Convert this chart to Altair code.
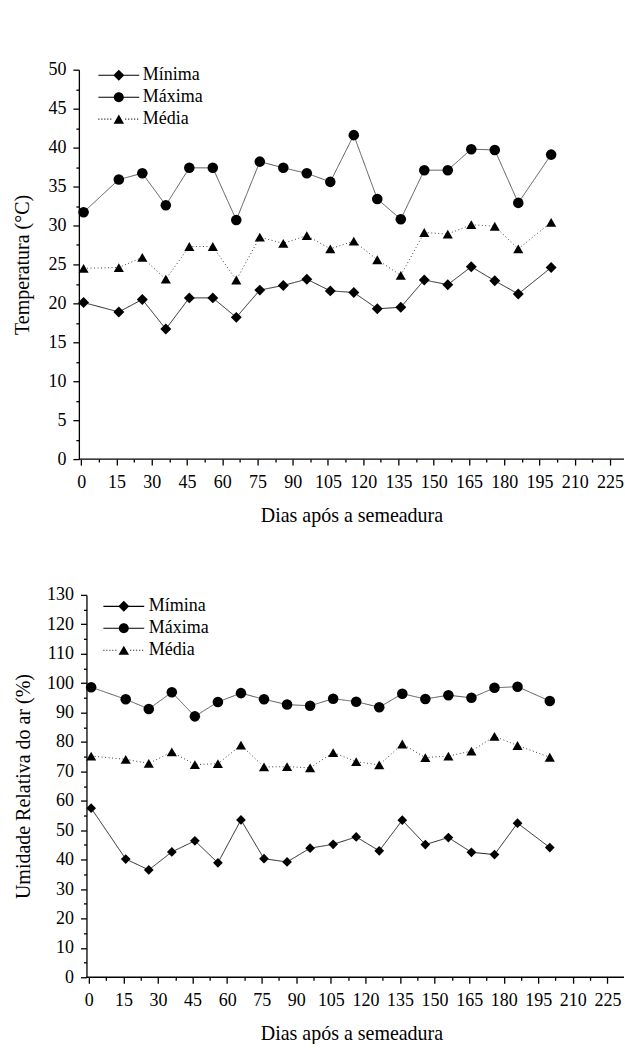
import altair as alt
import numpy as np
import pandas as pd

FONT = "Liberation Serif"

# Days after sowing at which readings were taken
days = [1, 16, 26, 36, 46, 56, 66, 76, 86, 96, 106, 116, 126, 136, 146, 156, 166, 176, 186, 200]

# Air temperature (°C)
temp_names = ["Mínima", "Máxima", "Média"]
temp_min = [20.1, 18.9, 20.5, 16.7, 20.7, 20.7, 18.2, 21.7, 22.3, 23.1,
            21.6, 21.4, 19.3, 19.5, 23.0, 22.4, 24.7, 22.9, 21.2, 24.6]
temp_max = [31.7, 35.9, 36.7, 32.6, 37.4, 37.4, 30.7, 38.2, 37.4, 36.7,
            35.6, 41.6, 33.4, 30.8, 37.1, 37.1, 39.8, 39.7, 32.9, 39.1]
temp_med = [24.5, 24.6, 25.9, 23.1, 27.3, 27.3, 23.0, 28.5, 27.7, 28.7,
            27.0, 28.0, 25.6, 23.6, 29.1, 28.9, 30.1, 29.9, 27.0, 30.4]

# Relative air humidity (%)
rh_names = ["Mímina", "Máxima", "Média"]
rh_min = [57.5, 40.2, 36.5, 42.6, 46.4, 38.9, 53.5, 40.3, 39.2, 43.9,
          45.2, 47.7, 43.0, 53.4, 45.1, 47.5, 42.5, 41.7, 52.4, 44.1]
rh_max = [98.6, 94.5, 91.2, 96.9, 88.7, 93.6, 96.6, 94.5, 92.7, 92.3,
          94.7, 93.7, 91.8, 96.4, 94.6, 95.9, 95.0, 98.4, 98.8, 93.9]
rh_med = [75.2, 74.1, 72.7, 76.6, 72.3, 72.6, 78.9, 71.5, 71.6, 71.2,
          76.4, 73.3, 72.2, 79.3, 74.7, 75.2, 76.9, 81.9, 78.8, 74.8]


def long_table(names, columns):
    rows = []
    for name, vals in zip(names, columns):
        for d, v in zip(days, vals):
            rows.append({"dia": d, "valor": v, "serie": name})
    return pd.DataFrame(rows)


def rect(x0, x1, h):
    # clockwise thin bar from x0 to x1, half-thickness h
    return f"M{x0:.3f},{-h}L{x1:.3f},{-h}L{x1:.3f},{h}L{x0:.3f},{h}Z"


def legend_shapes(half, thick=0.1):
    """Legend glyphs: a line stub (solid or dotted) with the series marker in the middle."""
    solid = rect(-half, -0.9, thick) + rect(0.9, half, thick)
    dots = "".join(rect(x, x + 0.19, thick)
                   for x in np.arange(-half, half, 0.57) if abs(x + 0.1) > 1.0)
    diamond = "M-1.05,0L0,-1.05L1.05,0L0,1.05Z"
    circle = "M-0.95,0A0.95,0.95 0 1,1 0.95,0A0.95,0.95 0 1,1 -0.95,0Z"
    triangle = "M0,-0.866L1,0.866L-1,0.866Z"
    return [solid + diamond, solid + circle, dots + triangle]


def panel(df, names, y_title, y_max, y_major, y_minor, x_min, x_start, x_max,
          width, height, y_extent, y_offset, legend_x, legend_y, label_offset):
    x_vals = [i * 7.5 for i in range(31)]
    y_vals = [float(v) for v in np.arange(0, y_max + 1e-9, y_minor)]

    x_scale = alt.Scale(domain=[x_min, x_max], nice=False, zero=False)
    y_scale = alt.Scale(domain=[0, y_max], nice=False)
    x_axis = alt.Axis(
        values=x_vals,
        labelExpr="datum.value % 15 === 0 ? datum.label : ''",
        tickSize={"condition": {"test": "datum.value % 15 === 0", "value": 6}, "value": 3},
        labelPadding=8,
        titlePadding=14,
        domain=False,
        title="Dias após a semeadura",
    )
    y_axis = alt.Axis(
        values=y_vals,
        labelExpr=f"datum.value % {y_major} === 0 ? datum.label : ''",
        tickSize={"condition": {"test": f"datum.value % {y_major} === 0", "value": 6}, "value": 3},
        labelPadding=7,
        minExtent=y_extent,
        maxExtent=y_extent,
        offset=y_offset,
        titlePadding=10,
        title=y_title,
    )
    x = alt.X("dia:Q", scale=x_scale, axis=x_axis)
    y = alt.Y("valor:Q", scale=y_scale, axis=y_axis)

    base = alt.Chart(df)
    # x axis baseline, running from the y axis to the right end of the scale
    baseline = base.transform_filter(
        "datum.serie == '%s' && datum.dia == %d" % (names[0], days[0])
    ).mark_rule(color="black", strokeWidth=1.3).encode(
        x=alt.X(datum=x_start, type="quantitative", scale=x_scale, axis=x_axis),
        x2=alt.X2(datum=x_max),
        y=alt.Y(datum=0, type="quantitative", scale=y_scale, axis=y_axis),
    )
    lines = base.mark_line(strokeWidth=1).encode(
        x=x,
        y=y,
        detail="serie:N",
        color=alt.Color("serie:N", scale=alt.Scale(domain=names, range=["#222222", "#555555", "#444444"]), legend=None),
        strokeDash=alt.StrokeDash("serie:N", scale=alt.Scale(domain=names, range=[[1, 0], [1, 0], [1, 2.5]]), legend=None),
    )
    points = base.mark_point(filled=True, opacity=1, color="black").encode(
        x=x,
        y=y,
        shape=alt.Shape("serie:N", scale=alt.Scale(domain=names, range=["diamond", "circle", "triangle-up"]), legend=None),
        size=alt.Size("serie:N", scale=alt.Scale(domain=names, range=[120, 95, 110]), legend=None),
    )
    key = base.transform_filter("false").mark_point(
        filled=True, color="black", size=110, opacity=1,
    ).encode(
        shape=alt.Shape(
            "serie:N",
            scale=alt.Scale(domain=names, range=legend_shapes(3.9)),
            legend=alt.Legend(
                title=None, orient="none", legendX=legend_x, legendY=legend_y,
                labelFont=FONT, labelFontSize=18, labelColor="black",
                labelOffset=label_offset, rowPadding=4, padding=0, symbolSize=110,
                symbolFillColor="black", symbolOpacity=1,
            ),
        ),
    )
    return (
        alt.layer(lines, points, baseline, key)
        .resolve_scale(shape="independent")
        .properties(width=width, height=height)
    )


top = panel(long_table(temp_names, [temp_min, temp_max, temp_med]), temp_names,
            "Temperatura (°C)", 50, 5, 2.5, -1, -1, 231,
            546, 390, 36, 0, 31, -3.5, 15)
bottom = panel(long_table(rh_names, [rh_min, rh_max, rh_med]), rh_names,
               "Umidade Relativa do ar (%)", 130, 10, 5, -4.33, -1.03, 232.2,
               546, 383, 43, -7.6, 36, 2.5, 16)

chart = (
    alt.vconcat(top, bottom, spacing=61)
    .properties(padding={"left": 13, "top": 60, "right": 0, "bottom": 0}, background="white")
    .configure_view(stroke=None)
    .configure_axis(
        grid=False,
        domainColor="black", domainWidth=1.3,
        tickColor="black", tickWidth=1.3,
        labelFont=FONT, labelFontSize=18, labelColor="black",
        labelOverlap=False, labelFlush=False, labelBound=False,
        titleFont=FONT, titleFontSize=20, titleFontWeight="normal", titleColor="black",
    )
)

chart.save("out.html", embed_options={"renderer": "svg", "actions": False})
